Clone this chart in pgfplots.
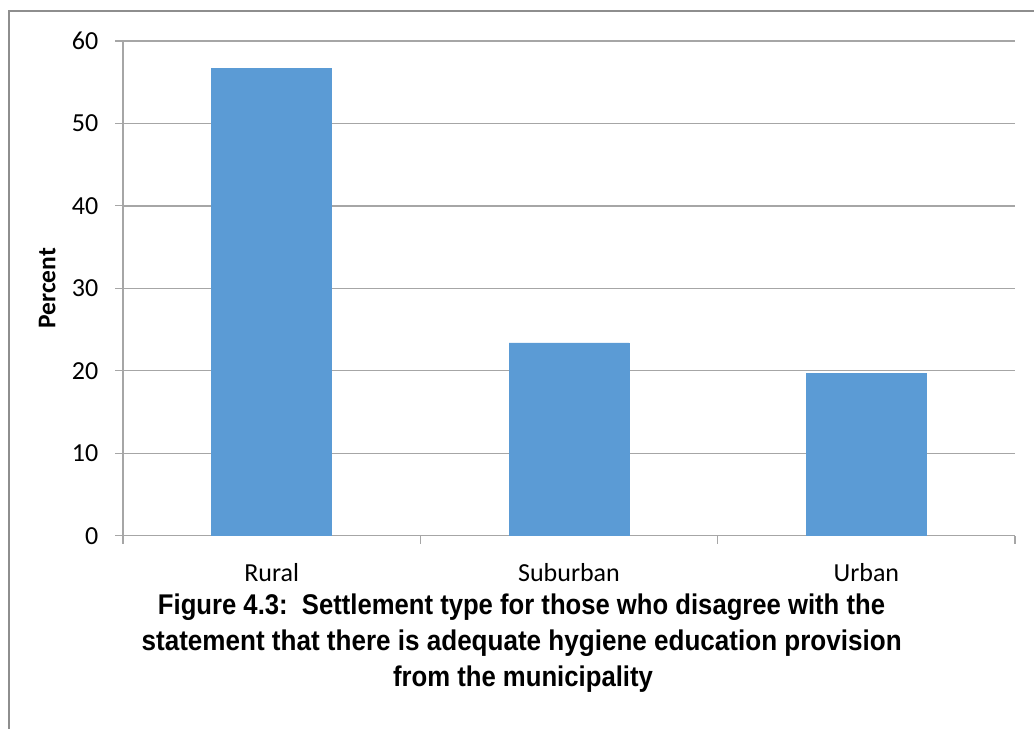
\documentclass[border=0pt]{standalone}
\usepackage{pgfplots}
\pgfplotsset{compat=1.18}
\usepackage{fontspec}
\setmainfont{Carlito}
\newfontfamily\arialfont{Liberation Sans}
\usepackage{graphicx}
\definecolor{barblue}{HTML}{5B9BD5}
\definecolor{gridgray}{HTML}{A6A6A6}
\definecolor{framegray}{HTML}{8E8E8E}

\pgfplotstableread{
x value
0 56.7
1 23.4
2 19.7
}\settlement

\begin{document}
\begin{tikzpicture}[x=1bp,y=1bp]
\useasboundingbox (0,0) rectangle (1034,729);
\draw[framegray, line width=1.4bp] (9,-5) -- (9,718) -- (1045,718);
\begin{axis}[
  at={(123bp,193.3bp)}, anchor=south west,
  scale only axis, width=892bp, height=494.7bp,
  ybar, bar width=120bp,
  xmin=-0.5, xmax=2.5, ymin=0, ymax=60,
  xtick={0,1,2}, xticklabels={Rural,Suburban,Urban},
  minor xtick={-0.5,0.5,1.5,2.5},
  ytick={0,10,20,30,40,50,60},
  tick align=outside,
  major tick length=8bp, minor tick length=8bp,
  major x tick style={draw=none},
  minor x tick style={draw=gridgray, line width=1.2bp},
  ytick style={draw=gridgray, line width=1.2bp},
  axis x line*=bottom, axis y line*=left,
  axis line style={draw=gridgray, line width=1.3bp, -},
  ymajorgrids, major grid style={draw=gridgray, line width=1.3bp},
  /pgf/number format/assume math mode=true,
  tick label style={font=\fontsize{26bp}{30bp}\selectfont, text=black},
  yticklabel style={anchor=east, inner sep=0pt, xshift=-16.5bp},
  xticklabel style={anchor=base, inner sep=0pt, yshift=-38bp},
  ylabel={\textbf{Percent}},
  every axis y label/.style={at={(axis description cs:0,0.5)}, xshift=-75.7bp, rotate=90, anchor=center, inner sep=0pt, font=\fontsize{25.5bp}{30bp}\selectfont},
  clip=false,
]
\addplot[fill=barblue, draw=barblue] table[x=x, y=value] {\settlement};
\end{axis}
\begin{scope}[every node/.style={anchor=base, inner sep=0pt, font=\arialfont\bfseries\fontsize{28.5bp}{33bp}\selectfont}]
\node at (521.5,114) {\resizebox{727bp}{\height}{Figure 4.3:\ \ Settlement type for those who disagree with the}};
\node at (521.7,78) {\resizebox{760bp}{\height}{statement that there is adequate hygiene education provision}};
\node at (523,42) {\resizebox{260bp}{\height}{from the municipality}};
\end{scope}
\end{tikzpicture}
\end{document}
